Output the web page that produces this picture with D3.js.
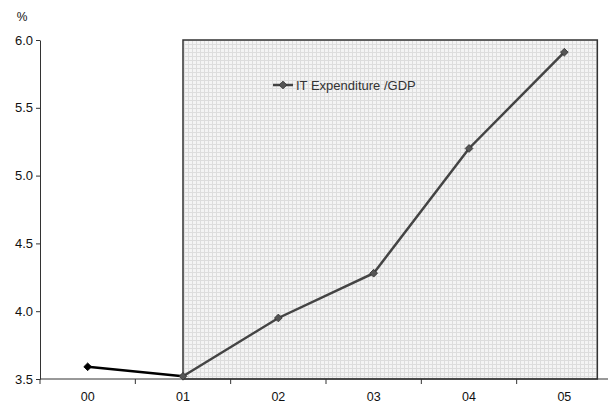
<!DOCTYPE html>
<html>
<head>
<meta charset="utf-8">
<script src="https://cdn.jsdelivr.net/npm/d3@7"></script>
<style>
  html, body { margin: 0; padding: 0; background: #fff; }
  svg { display: block; font-family: Arial, "Liberation Sans", sans-serif; }
</style>
</head>
<body>
<svg id="chart" width="608" height="409"></svg>
<script>
// IT expenditure as a share of GDP, by year
const years = ["00", "01", "02", "03", "04", "05"];
const itGdp = [3.59, 3.52, 3.95, 4.28, 5.20, 5.91];
const yTicks = [3.5, 4.0, 4.5, 5.0, 5.5, 6.0];
const seriesName = "IT Expenditure /GDP";
const shadedFrom = "01"; // shaded period starts here

const svg = d3.select("#chart");
const margin = { left: 40, right: -4, top: 40, bottom: 30 };
const W = 608, H = 409;

const x = d3.scaleBand().domain(years).range([margin.left, W - margin.right]).padding(0);
const y = d3.scaleLinear().domain([3.5, 6.0]).range([H - margin.bottom, margin.top]);

// grid-paper fill pattern for the shaded period
const defs = svg.append("defs");
const pat = defs.append("pattern")
  .attr("id", "grid").attr("patternUnits", "userSpaceOnUse")
  .attr("width", 4).attr("height", 4);
pat.append("rect").attr("width", 4).attr("height", 4).attr("fill", "#f4f4f4");
pat.append("rect").attr("x", 0).attr("y", 0).attr("width", 1).attr("height", 4).attr("fill", "#dddddd");
pat.append("rect").attr("x", 0).attr("y", 0).attr("width", 4).attr("height", 1).attr("fill", "#dddddd");

const cx = d => x(d) + x.bandwidth() / 2;
const x0 = cx(shadedFrom);
const x1 = cx(years[years.length - 1]) + 33;
svg.append("rect")
  .attr("x", x0).attr("y", y(6.0))
  .attr("width", x1 - x0).attr("height", y(3.5) - y(6.0))
  .attr("fill", "url(#grid)")
  .attr("stroke", "#333").attr("stroke-width", 1.5);

// y axis
const yAxis = d3.axisLeft(y).tickValues(yTicks).tickFormat(d3.format(".1f")).tickSize(4).tickSizeOuter(0);
const gy = svg.append("g").attr("transform", `translate(${margin.left},0)`).call(yAxis);
gy.select(".domain").attr("stroke", "#333");
gy.selectAll(".tick line").attr("stroke", "#333");
gy.selectAll(".tick text").attr("font-size", 13).attr("fill", "#111").attr("x", -7)
  .attr("font-family", "Arial, 'Liberation Sans', sans-serif");

// x axis: tick marks between categories, labels centred under each
const gx = svg.append("g").attr("transform", `translate(0,${y(3.5)})`);
gx.append("line").attr("x1", margin.left).attr("x2", W)
  .attr("stroke", "#333").attr("stroke-width", 1);
gx.selectAll(".sep").data(years).join("line")
  .attr("class", "sep")
  .attr("x1", d => x(d)).attr("x2", d => x(d))
  .attr("y1", 0).attr("y2", 5).attr("stroke", "#333");
gx.selectAll(".lab").data(years).join("text")
  .attr("class", "lab")
  .attr("x", d => cx(d)).attr("y", 22)
  .attr("text-anchor", "middle").attr("font-size", 12.5).attr("fill", "#111")
  .text(d => d);

// unit label
svg.append("text").attr("x", 22).attr("y", 21).attr("text-anchor", "middle")
  .attr("font-size", 12).attr("fill", "#111").text("%");

const pts = years.map((d, i) => ({ year: d, v: itGdp[i] }));
const line = d3.line().x(d => cx(d.year)).y(d => y(d.v));
// compact diamond: a square turned 45 degrees
const diamond = d3.symbol().type(d3.symbolSquare).size(30);

// first segment (before the shaded period) in black
const split = years.indexOf(shadedFrom);
svg.append("path").datum(pts.slice(0, split + 1))
  .attr("d", line).attr("fill", "none").attr("stroke", "#000").attr("stroke-width", 2.5);
// remaining segments in dark grey
svg.append("path").datum(pts.slice(split))
  .attr("d", line).attr("fill", "none").attr("stroke", "#444").attr("stroke-width", 2.5);

svg.selectAll(".mk").data(pts).join("path")
  .attr("class", "mk")
  .attr("transform", d => `translate(${cx(d.year)},${y(d.v)}) rotate(45)`)
  .attr("d", diamond)
  .attr("fill", (d, i) => i < split ? "#000" : "#555")
  .attr("stroke", (d, i) => i < split ? "#000" : "#333").attr("stroke-width", 0.8);

// legend
const lg = svg.append("g").attr("transform", "translate(273,85)");
lg.append("line").attr("x1", 0).attr("x2", 20).attr("y1", 0).attr("y2", 0)
  .attr("stroke", "#444").attr("stroke-width", 2.5);
lg.append("path").attr("transform", "translate(10,0) rotate(45)").attr("d", diamond)
  .attr("fill", "#555").attr("stroke", "#333").attr("stroke-width", 0.8);
lg.append("text").attr("x", 23).attr("y", 5).attr("font-size", 13).attr("fill", "#333")
  .text(seriesName);
</script>
</body>
</html>
